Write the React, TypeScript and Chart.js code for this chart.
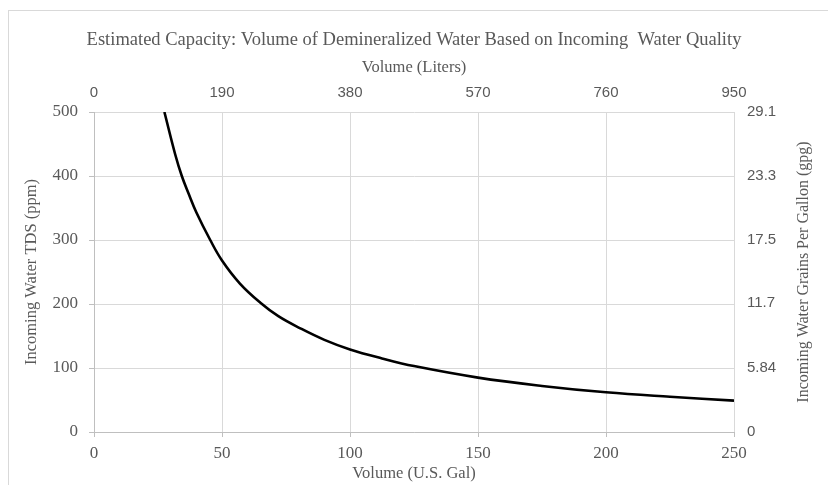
import React, { useEffect, useRef } from "react";
import { Chart, registerables } from "chart.js";

Chart.register(...registerables);

const chartTitle = "Estimated Capacity: Volume of Demineralized Water Based on Incoming  Water Quality";
const xTitle = "Volume (U.S. Gal)";
const x2Title = "Volume (Liters)";
const yTitle = "Incoming Water TDS (ppm)";
const y2Title = "Incoming Water Grains Per Gallon (gpg)";

const volumeGal = [27.5, 31.7, 34.3, 36.9, 40, 45.4, 50, 57, 65, 72, 80.6, 90, 100, 112.5, 125, 150, 175, 200, 225, 250];
const tdsPpm = [500, 434, 400, 373, 343, 300, 268, 232, 202, 181, 162, 144, 129, 115, 103, 85, 72, 62, 55, 49];

const literTicks = [0, 190, 380, 570, 760, 950];
const gpgTicks = [0, 5.84, 11.7, 17.5, 23.3, 29.1];

const grey = "#595959";
const serif = "'Liberation Serif', 'DejaVu Serif', serif";
const sans = "'Liberation Sans', Arial, sans-serif";

const framePlugin = {
  id: "frame",
  beforeDraw(chart: any) {
    const ctx = chart.ctx;
    ctx.save();
    ctx.fillStyle = "#ffffff";
    ctx.fillRect(0, 0, chart.width, chart.height);
    ctx.strokeStyle = "#d9d9d9";
    ctx.lineWidth = 1;
    ctx.strokeRect(8.5, 10.5, chart.width + 20, chart.height + 20);
    ctx.restore();
  },
  afterDraw(chart: any) {
    const ctx = chart.ctx;
    const area = chart.chartArea;
    ctx.save();
    ctx.translate(804, (area.top + area.bottom) / 2);
    ctx.rotate(-Math.PI / 2);
    ctx.fillStyle = grey;
    ctx.font = "16px " + serif;
    ctx.textAlign = "center";
    ctx.textBaseline = "middle";
    ctx.fillText(y2Title, 0, 0);
    ctx.restore();
  },
};

export default function App() {
  const ref = useRef<HTMLCanvasElement | null>(null);
  useEffect(() => {
    document.body.style.margin = "0";
    if (!ref.current) return;
    const titleSize = 18.5;
    const titlePadTop = 29;
    const titleH = titlePadTop + titleSize * 1.2;
    const chart = new Chart(ref.current, {
      type: "line",
      data: {
        datasets: [
          {
            data: volumeGal.map((v, i) => ({ x: v, y: tdsPpm[i] })),
            borderColor: "#000000",
            borderWidth: 2.6,
            pointRadius: 0,
            fill: false,
            tension: 0.4,
            xAxisID: "x",
            yAxisID: "y",
          },
        ],
      },
      plugins: [framePlugin],
      options: {
        responsive: false,
        animation: false,
        layout: { padding: 0 },
        plugins: {
          legend: { display: false },
          tooltip: { enabled: false },
          title: {
            display: true,
            text: chartTitle,
            color: grey,
            font: { family: serif, size: titleSize, weight: "normal" },
            padding: { top: titlePadTop, bottom: 0 },
          },
        },
        scales: {
          x: {
            type: "linear",
            position: "bottom",
            min: 0,
            max: 250,
            ticks: { stepSize: 50, color: grey, font: { family: serif, size: 17 }, padding: 6, maxRotation: 0 },
            grid: { color: "#d9d9d9", tickLength: 5, tickColor: "#bfbfbf" },
            border: { color: "#bfbfbf" },
            title: { display: true, text: xTitle, color: grey, font: { family: serif, size: 16.5 }, padding: { top: 0, bottom: 1.5 } },
            afterFit: (s: any) => { s.height = 53; },
          },
          x2: {
            type: "linear",
            position: "top",
            min: 0,
            max: 950,
            afterBuildTicks: (s: any) => { s.ticks = literTicks.map((v) => ({ value: v })); },
            ticks: { color: grey, font: { family: sans, size: 15 }, padding: 10, maxRotation: 0, callback: (v: any) => String(v) },
            grid: { display: false, drawTicks: false },
            border: { display: false },
            title: { display: true, text: x2Title, color: grey, font: { family: serif, size: 16.5 }, padding: { top: 6.5, bottom: 0 } },
            afterFit: (s: any) => { s.height = 112 - titleH; },
          },
          y: {
            type: "linear",
            position: "left",
            min: 0,
            max: 500,
            ticks: { stepSize: 100, color: grey, font: { family: serif, size: 17 }, padding: 11 },
            grid: { color: "#d9d9d9", tickLength: 5, tickColor: "#bfbfbf" },
            border: { color: "#bfbfbf" },
            title: { display: true, text: yTitle, color: grey, font: { family: serif, size: 16.5 }, padding: { top: 22, bottom: 0 } },
            afterFit: (s: any) => { s.width = 94; },
          },
          y2: {
            type: "linear",
            position: "right",
            min: 0,
            max: 29.1,
            afterBuildTicks: (s: any) => { s.ticks = gpgTicks.map((v) => ({ value: v })); },
            ticks: { color: grey, font: { family: sans, size: 15 }, padding: 13, callback: (v: any) => String(v) },
            grid: { display: false, drawTicks: false },
            border: { display: false },
            title: { display: false },
            afterFit: (s: any) => { s.width = 94; },
          },
        },
      },
    } as any);
    return () => chart.destroy();
  }, []);
  return <canvas ref={ref} width={828} height={485} style={{ display: "block" }} />;
}
